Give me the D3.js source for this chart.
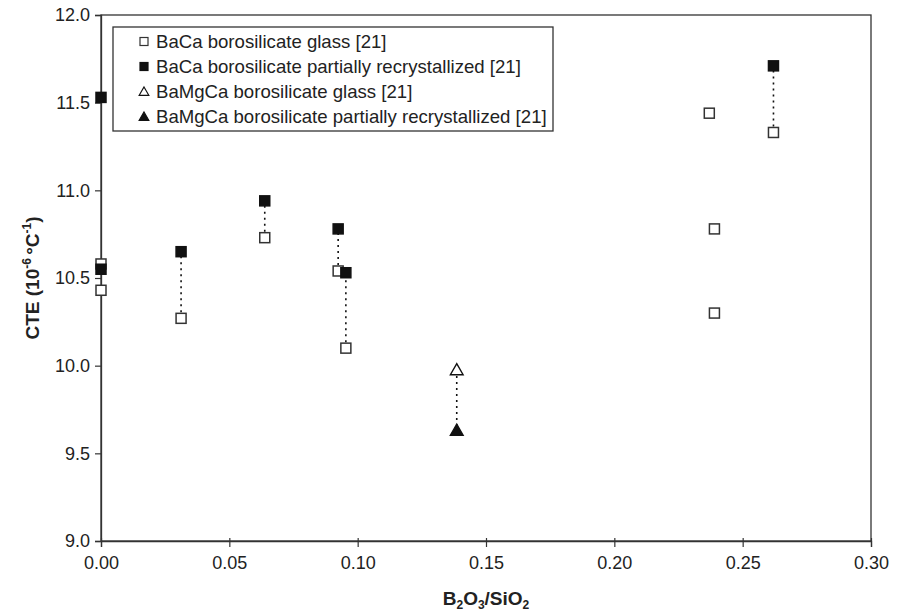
<!DOCTYPE html>
<html>
<head>
<meta charset="utf-8">
<script src="https://cdn.jsdelivr.net/npm/d3@7"></script>
<style>
  body { margin: 0; background: #fff; }
  svg { display: block; font-family: "Liberation Sans", Arial, sans-serif; }
</style>
</head>
<body>
<svg id="chart" width="902" height="616"></svg>
<script>
// ---- data ----
const seriesNames = [
  "BaCa borosilicate glass [21]",
  "BaCa borosilicate partially recrystallized [21]",
  "BaMgCa borosilicate glass [21]",
  "BaMgCa borosilicate partially recrystallized [21]"
];
const baCaGlassX = [0, 0, 0.0312, 0.0638, 0.0924, 0.0954, 0.237, 0.239, 0.239, 0.262];
const baCaGlassY = [10.58, 10.43, 10.27, 10.73, 10.54, 10.10, 11.44, 10.78, 10.30, 11.33];
const baCaCrystX = [0, 0, 0.0312, 0.0638, 0.0924, 0.0954, 0.262];
const baCaCrystY = [11.53, 10.55, 10.65, 10.94, 10.78, 10.53, 11.71];
const baMgCaGlassX = [0.1386];
const baMgCaGlassY = [9.975];
const baMgCaCrystX = [0.1386];
const baMgCaCrystY = [9.63];
// dotted tie lines between glass and recrystallized values
const tieX    = [0.0312, 0.0638, 0.0924, 0.0954, 0.1386, 0.262];
const tieLow  = [10.27, 10.73, 10.54, 10.10, 9.975, 11.33];
const tieHigh = [10.65, 10.94, 10.78, 10.53, 9.63, 11.71];
const xTicks = [0, 0.05, 0.10, 0.15, 0.20, 0.25, 0.30];
const yTicks = [9.0, 9.5, 10.0, 10.5, 11.0, 11.5, 12.0];

// ---- layout ----
const svg = d3.select("#chart");
const L = 101, R = 871, T = 15, B = 541;
const x = d3.scaleLinear().domain([0, 0.30]).range([L, R]);
const y = d3.scaleLinear().domain([9.0, 12.0]).range([B, T]);
const ink = "#111";

// plot frame
svg.append("rect").attr("x", L).attr("y", T).attr("width", R - L).attr("height", B - T)
  .attr("fill", "none").attr("stroke", "#333").attr("stroke-width", 1.3);

// axes
const xAxis = svg.append("g").attr("transform", `translate(0,${B})`)
  .call(d3.axisBottom(x).tickValues(xTicks).tickFormat(d3.format(".2f")).tickSize(6).tickPadding(9));
const yAxis = svg.append("g").attr("transform", `translate(${L},0)`)
  .call(d3.axisLeft(y).tickValues(yTicks).tickFormat(d3.format(".1f")).tickSize(6).tickPadding(5));
[xAxis, yAxis].forEach(g => {
  g.select(".domain").attr("stroke", "#333").attr("stroke-width", 1.3);
  g.selectAll(".tick line").attr("stroke", "#333").attr("stroke-width", 1.2);
  g.selectAll(".tick text").attr("font-size", 18).attr("fill", "#222")
    .attr("font-family", "Liberation Sans, Arial, sans-serif");
});
xAxis.selectAll(".tick line").attr("y1", -3);

// tie lines
svg.append("g").selectAll("line").data(tieX).join("line")
  .attr("x1", d => x(d)).attr("x2", d => x(d))
  .attr("y1", (d, i) => y(tieLow[i])).attr("y2", (d, i) => y(tieHigh[i]))
  .attr("stroke", ink).attr("stroke-width", 1.6).attr("stroke-dasharray", "2,4");

// markers
const sq = 10;
function squares(xs, ys, filled) {
  svg.append("g").selectAll("rect").data(xs).join("rect")
    .attr("x", d => x(d) - sq / 2).attr("y", (d, i) => y(ys[i]) - sq / 2)
    .attr("width", sq).attr("height", sq)
    .attr("fill", filled ? ink : "#fff").attr("stroke", filled ? ink : "#333").attr("stroke-width", 1.5);
}
function triangles(xs, ys, filled) {
  const tri = d3.symbol().type(d3.symbolTriangle).size(70);
  svg.append("g").selectAll("path").data(xs).join("path")
    .attr("d", tri).attr("transform", (d, i) => `translate(${x(d)},${y(ys[i]) + 1})`)
    .attr("fill", filled ? ink : "#fff").attr("stroke", ink).attr("stroke-width", 1.4);
}
squares(baCaGlassX, baCaGlassY, false);
squares(baCaCrystX, baCaCrystY, true);
triangles(baMgCaGlassX, baMgCaGlassY, false);
triangles(baMgCaCrystX, baMgCaCrystY, true);

// legend
const lg = svg.append("g");
lg.append("rect").attr("x", 113).attr("y", 27).attr("width", 440).attr("height", 104)
  .attr("fill", "#fff").attr("stroke", "#333").attr("stroke-width", 1.3);
const rowY = i => 41.5 + i * 25;
seriesNames.forEach((name, i) => {
  const cy = rowY(i), cx = 144;
  if (i < 2) {
    lg.append("rect").attr("x", cx - 4).attr("y", cy - 4).attr("width", 8).attr("height", 8)
      .attr("fill", i === 1 ? ink : "#fff").attr("stroke", i === 1 ? ink : "#333").attr("stroke-width", 1.2);
  } else {
    lg.append("path").attr("d", d3.symbol().type(d3.symbolTriangle).size(40))
      .attr("transform", `translate(${cx},${cy + 1})`)
      .attr("fill", i === 3 ? ink : "#fff").attr("stroke", ink).attr("stroke-width", 1.2);
  }
  lg.append("text").attr("x", 156).attr("y", cy).attr("dy", "0.36em")
    .attr("font-size", 18.6).attr("fill", "#222").text(name);
});

// axis titles
const yt = svg.append("text").attr("transform", `translate(39,278) rotate(-90)`)
  .attr("text-anchor", "middle").attr("font-size", 19).attr("font-weight", "bold").attr("fill", "#222");
yt.append("tspan").text("CTE (10");
yt.append("tspan").attr("font-size", 12).attr("dy", -8).text("-6 ");
yt.append("tspan").attr("dy", 8).text("°C");
yt.append("tspan").attr("font-size", 12).attr("dy", -8).text("-1");
yt.append("tspan").attr("dy", 8).text(")");

const xt = svg.append("text").attr("x", 486).attr("y", 605)
  .attr("text-anchor", "middle").attr("font-size", 19).attr("font-weight", "bold").attr("fill", "#222");
xt.append("tspan").text("B");
xt.append("tspan").attr("font-size", 12).attr("dy", 4).text("2");
xt.append("tspan").attr("dy", -4).text("O");
xt.append("tspan").attr("font-size", 12).attr("dy", 4).text("3");
xt.append("tspan").attr("dy", -4).text("/SiO");
xt.append("tspan").attr("font-size", 12).attr("dy", 4).text("2");
</script>
</body>
</html>
